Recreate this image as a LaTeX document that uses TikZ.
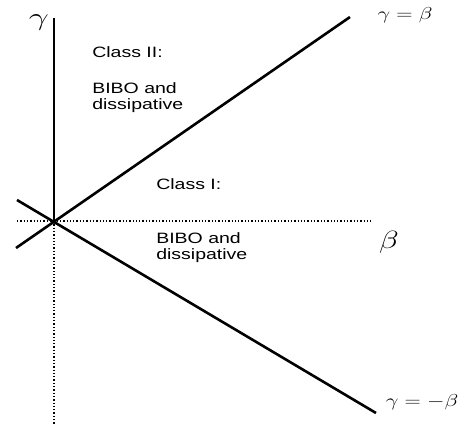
\documentclass[tikz,border=0pt]{standalone}
\usepackage{fontspec}
\setmainfont{Liberation Sans}
\usepackage{tikz}
\usetikzlibrary{positioning, calc}

\begin{document}
\begin{tikzpicture}[
    x=1pt, y=-1pt,
    axis/.style={line width=2.6pt},
    guide/.style={line width=1.3pt, dash pattern=on 1.3pt off 2pt},
    region/.style={font=\fontsize{15}{17}\selectfont, xscale=1.3, inner sep=0,
        anchor=base west},
    sym/.style={font=\fontsize{17}{20}\selectfont, xscale=1.3, inner sep=0},
]
\useasboundingbox (0,0) rectangle (464,424);

% ===== ejes =====
\coordinate (O) at (54,221);
\coordinate (gtop) at (54,18);
\coordinate (gbot) at (54,424);
\coordinate (bleft) at (17,221);
\coordinate (bright) at (373,221);
\draw[axis] (gtop) -- (O);
\draw[guide] (O) -- (gbot);
\draw[guide] (bleft) -- (bright);

% ===== rectas gamma = +/- beta =====
\coordinate (pstart) at (16,248);
\coordinate (pend) at (350,17);
\coordinate (mstart) at (17,200);
\coordinate (mend) at (376,413);
\draw[axis] (pstart) -- (pend);
\draw[axis] (mstart) -- (mend);

% ===== etiquetas =====
\node[sym, font=\fontsize{24}{26}\selectfont, xscale=1.1] (gam) at (39,23) {$\gamma$};
\node[sym, font=\fontsize{28}{30}\selectfont] (bet) at (389,242) {$\beta$};
\node[sym] (eqp) at (405,15) {$\gamma=\beta$};
\node[sym] (eqm) at (422,402) {$\gamma=-\beta$};

% ===== regiones =====
\node[region] (c2) at (92,57) {Class II:};
\node[region] (c2a) at (92,93) {BIBO and};
\node[region] (c2b) at (92,109) {dissipative};
\node[region] (c1) at (156,189) {Class I:};
\node[region] (c1a) at (156,243) {BIBO and};
\node[region] (c1b) at (156,259) {dissipative};

\end{tikzpicture}
\end{document}
